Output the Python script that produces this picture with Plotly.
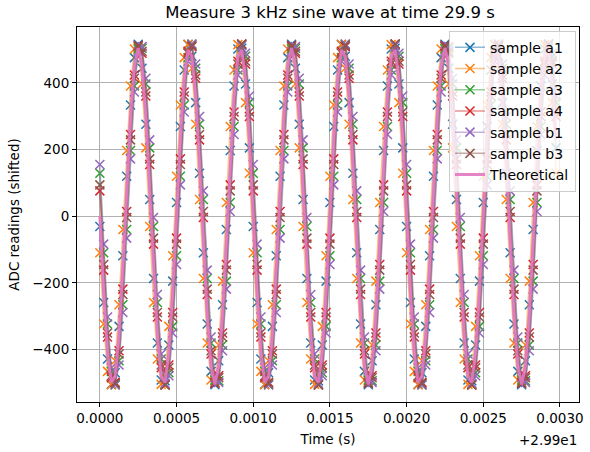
import plotly.graph_objects as go

T0 = 29.9
SAMPLE_PERIOD = 25e-6  # 40 kHz sampling
N = 120

sample_a1 = [
    -31, -259, -429, -505, -470, -331, -119, 120, 334, 476, 516, 444, 276, 50, -187, -381, -492, -494, -387, -195,
    41, 269, 439, 515, 480, 341, 129, -110, -324, -466, -506, -434, -266, -40, 197, 391, 502, 504, 397, 205,
    -31, -259, -429, -505, -470, -331, -119, 120, 334, 476, 516, 444, 276, 50, -187, -381, -492, -494, -387, -195,
    41, 269, 439, 515, 480, 341, 129, -110, -324, -466, -506, -434, -266, -40, 197, 391, 502, 504, 397, 205,
    -31, -259, -429, -505, -470, -331, -119, 120, 334, 476, 516, 444, 276, 50, -187, -381, -492, -494, -387, -195,
    41, 269, 439, 515, 480, 341, 129, -110, -324, -466, -506, -434, -266, -40, 197, 391, 502, 504, 397, 205,
]
sample_a2 = [
    -110, -324, -466, -506, -434, -266, -40, 197, 391, 502, 504, 397, 205, -31, -259, -429, -505, -470, -331, -119,
    120, 334, 476, 516, 444, 276, 50, -187, -381, -492, -494, -387, -195, 41, 269, 439, 515, 480, 341, 129,
    -110, -324, -466, -506, -434, -266, -40, 197, 391, 502, 504, 397, 205, -31, -259, -429, -505, -470, -331, -119,
    120, 334, 476, 516, 444, 276, 50, -187, -381, -492, -494, -387, -195, 41, 269, 439, 515, 480, 341, 129,
    -110, -324, -466, -506, -434, -266, -40, 197, 391, 502, 504, 397, 205, -31, -259, -429, -505, -470, -331, -119,
    120, 334, 476, 516, 444, 276, 50, -187, -381, -492, -494, -387, -195, 41, 269, 439, 515, 480, 341, 129,
]
sample_a3 = [
    129, -110, -324, -466, -506, -434, -266, -40, 197, 391, 502, 504, 397, 205, -31, -259, -429, -505, -470, -331,
    -119, 120, 334, 476, 516, 444, 276, 50, -187, -381, -492, -494, -387, -195, 41, 269, 439, 515, 480, 341,
    129, -110, -324, -466, -506, -434, -266, -40, 197, 391, 502, 504, 397, 205, -31, -259, -429, -505, -470, -331,
    -119, 120, 334, 476, 516, 444, 276, 50, -187, -381, -492, -494, -387, -195, 41, 269, 439, 515, 480, 341,
    129, -110, -324, -466, -506, -434, -266, -40, 197, 391, 502, 504, 397, 205, -31, -259, -429, -505, -470, -331,
    -119, 120, 334, 476, 516, 444, 276, 50, -187, -381, -492, -494, -387, -195, 41, 269, 439, 515, 480, 341,
]
sample_a4 = [
    76, -162, -363, -485, -499, -404, -219, 14, 245, 424, 512, 489, 361, 155, -84, -303, -455, -507, -447, -289,
    -66, 172, 373, 495, 509, 414, 229, -4, -235, -414, -502, -479, -351, -145, 94, 313, 465, 517, 457, 299,
    76, -162, -363, -485, -499, -404, -219, 14, 245, 424, 512, 489, 361, 155, -84, -303, -455, -507, -447, -289,
    -66, 172, 373, 495, 509, 414, 229, -4, -235, -414, -502, -479, -351, -145, 94, 313, 465, 517, 457, 299,
    76, -162, -363, -485, -499, -404, -219, 14, 245, 424, 512, 489, 361, 155, -84, -303, -455, -507, -447, -289,
    -66, 172, 373, 495, 509, 414, 229, -4, -235, -414, -502, -479, -351, -145, 94, 313, 465, 517, 457, 299,
]
sample_b1 = [
    155, -84, -303, -455, -507, -447, -289, -66, 172, 373, 495, 509, 414, 229, -4, -235, -414, -502, -479, -351,
    -145, 94, 313, 465, 517, 457, 299, 76, -162, -363, -485, -499, -404, -219, 14, 245, 424, 512, 489, 361,
    155, -84, -303, -455, -507, -447, -289, -66, 172, 373, 495, 509, 414, 229, -4, -235, -414, -502, -479, -351,
    -145, 94, 313, 465, 517, 457, 299, 76, -162, -363, -485, -499, -404, -219, 14, 245, 424, 512, 489, 361,
    155, -84, -303, -455, -507, -447, -289, -66, 172, 373, 495, 509, 414, 229, -4, -235, -414, -502, -479, -351,
    -145, 94, 313, 465, 517, 457, 299, 76, -162, -363, -485, -499, -404, -219, 14, 245, 424, 512, 489, 361,
]
sample_b3 = [
    94, -145, -351, -479, -502, -414, -235, -4, 229, 414, 509, 495, 373, 172, -66, -289, -447, -507, -455, -303,
    -84, 155, 361, 489, 512, 424, 245, 14, -219, -404, -499, -485, -363, -162, 76, 299, 457, 517, 465, 313,
    94, -145, -351, -479, -502, -414, -235, -4, 229, 414, 509, 495, 373, 172, -66, -289, -447, -507, -455, -303,
    -84, 155, 361, 489, 512, 424, 245, 14, -219, -404, -499, -485, -363, -162, 76, 299, 457, 517, 465, 313,
    94, -145, -351, -479, -502, -414, -235, -4, 229, 414, 509, 495, 373, 172, -66, -289, -447, -507, -455, -303,
    -84, 155, 361, 489, 512, 424, 245, 14, -219, -404, -499, -485, -363, -162, 76, 299, 457, 517, 465, 313,
]
theoretical = [
    0, -229, -409, -499, -480, -357, -156, 79, 297, 450, 505, 450, 297, 79, -156, -357, -480, -499, -409, -229,
    0, 229, 409, 499, 480, 357, 156, -79, -297, -450, -505, -450, -297, -79, 156, 357, 480, 499, 409, 229,
    0, -229, -409, -499, -480, -357, -156, 79, 297, 450, 505, 450, 297, 79, -156, -357, -480, -499, -409, -229,
    0, 229, 409, 499, 480, 357, 156, -79, -297, -450, -505, -450, -297, -79, 156, 357, 480, 499, 409, 229,
    0, -229, -409, -499, -480, -357, -156, 79, 297, 450, 505, 450, 297, 79, -156, -357, -480, -499, -409, -229,
    0, 229, 409, 499, 480, 357, 156, -79, -297, -450, -505, -450, -297, -79, 156, 357, 480, 499, 409, 229,
]

series_names = ["sample a1", "sample a2", "sample a3", "sample a4", "sample b1", "sample b3"]
series_values = [sample_a1, sample_a2, sample_a3, sample_a4, sample_b1, sample_b3]
series_colors = [(31, 119, 180), (255, 127, 14), (44, 160, 44), (214, 39, 40), (148, 103, 189), (140, 86, 75)]

x_tick_vals = [0.0, 0.0005, 0.0010, 0.0015, 0.0020, 0.0025, 0.0030]
x_tick_text = ["0.0000", "0.0005", "0.0010", "0.0015", "0.0020", "0.0025", "0.0030"]
y_tick_vals = [-400, -200, 0, 200, 400]
y_tick_text = ["\u2212400", "\u2212200", "0", "200", "400"]

# time relative to offset T0 (shown as +2.99e1 offset text)
t_rel = [k * SAMPLE_PERIOD for k in range(N)]

FONT = "DejaVu Sans, Arial, sans-serif"
fig = go.Figure()
for name, vals, (r, g, b) in zip(series_names, series_values, series_colors):
    fig.add_trace(go.Scatter(
        x=t_rel, y=vals, name=name, mode="lines+markers",
        line=dict(color=f"rgba({r},{g},{b},0.5)", width=1.5),
        marker=dict(symbol="x-thin", size=9, color=f"rgb({r},{g},{b})",
                    line=dict(color=f"rgb({r},{g},{b})", width=1.5)),
    ))
fig.add_trace(go.Scatter(
    x=t_rel, y=theoretical, name="Theoretical", mode="lines",
    line=dict(color="rgba(227,119,194,0.9)", width=3),
))

axis_common = dict(
    showline=True, linecolor="black", linewidth=1, mirror=True,
    ticks="outside", ticklen=4, tickwidth=1, tickcolor="black",
    showgrid=True, gridcolor="#b0b0b0", gridwidth=0.8, zeroline=False,
    tickfont=dict(family=FONT, size=13.5, color="black"),
)
fig.update_xaxes(range=[-0.000149, 0.003124], tickvals=x_tick_vals, ticktext=x_tick_text,
                 title=dict(text="Time (s)", font=dict(family=FONT, size=13.5, color="black"), standoff=9),
                 **axis_common)
fig.update_yaxes(range=[-558, 568], tickvals=y_tick_vals, ticktext=y_tick_text,
                 title=dict(text="ADC readings (shifted)", font=dict(family=FONT, size=13.5, color="black"), standoff=9),
                 **axis_common)

fig.update_layout(
    width=590, height=452,
    margin=dict(l=77, r=7, t=27, b=48),
    paper_bgcolor="white", plot_bgcolor="white",
    font=dict(family=FONT, size=13.5, color="black"),
    title=dict(text="Measure 3 kHz sine wave at time 29.9 s", x=0.5593, xanchor="center",
               y=0.973, yanchor="middle", font=dict(family=FONT, size=16.5, color="black")),
    legend=dict(x=0.994, xanchor="right", y=0.99, yanchor="top",
                bgcolor="rgba(255,255,255,0.8)", bordercolor="#cccccc", borderwidth=1,
                font=dict(family=FONT, size=14, color="black"), itemwidth=30, tracegroupgap=0),
    showlegend=True,
)
fig.add_annotation(text="+2.99e1", xref="paper", yref="paper", x=1.0, y=-0.075,
                   xanchor="right", yanchor="top", showarrow=False,
                   font=dict(family=FONT, size=13.5, color="black"))

fig.write_html("out.html", config={"displayModeBar": False},
               post_script="document.body.style.margin='0';")
